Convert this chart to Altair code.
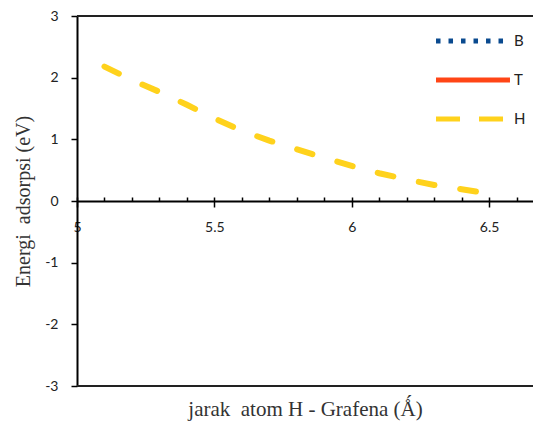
import altair as alt
import pandas as pd

# Data (series H); B and T appear only in the legend
distance = [5.1, 5.2, 5.3, 5.4, 5.5, 5.6, 5.7, 5.8, 5.9, 6.0, 6.1, 6.2, 6.3, 6.4, 6.5]
energy_H = [2.18, 1.96, 1.77, 1.56, 1.34, 1.14, 0.98, 0.84, 0.70, 0.57, 0.45, 0.35, 0.26, 0.19, 0.12]
series_names = ["B", "T", "H"]
series_colors = ["#0a4a8f", "#ff4516", "#ffd21c"]
legend_dashes = [[4.5, 8], [1, 0], [24, 19]]
line_dash_H = [16, 26]
x_ticks = [5, 5.5, 6, 6.5]
x_minor = [round(5 + 0.1 * i, 1) for i in range(17)]
y_ticks = [-3, -2, -1, 0, 1, 2, 3]
border_y = [3, -3]

df = pd.DataFrame({"x": distance, "y": energy_H, "s": ["H"] * len(distance)})
borders = pd.DataFrame({"y": border_y})
legend_df = pd.DataFrame({"s": series_names})

W, H = 456, 370
xscale = alt.Scale(domain=[5, 6.66], nice=False, zero=False)
yscale = alt.Scale(domain=[-3, 3], nice=False)
cscale = alt.Scale(domain=series_names, range=series_colors)

FONT_LBL = "Lato"
FONT_TTL = "Liberation Serif"

# wide horizontal stroke symbol with a small nominal size, so rows stay compact
leg = dict(title=None, orient="none", legendX=381, legendY=10,
           symbolType="M-3,0H3", symbolSize=608, symbolStrokeWidth=5,
           symbolFillColor="transparent",
           labelFont=FONT_LBL, labelFontSize=15, labelColor="#222222",
           rowPadding=14, labelOffset=26)

yaxis = dict(values=y_ticks, tickSize=6, tickWidth=1.5, tickColor="black",
             domainColor="black", domainWidth=2, grid=False,
             labelFont=FONT_LBL, labelFontSize=14, labelColor="#222222", labelPadding=13,
             labelExpr="'' + datum.value",
             title="Energi\u00a0 adsorpsi (eV)", titleFont=FONT_TTL, titleFontSize=20,
             titleFontWeight="normal", titleColor="#333333", titleX=-54,
             titleBaseline="middle")

line = alt.Chart(df).mark_line(strokeWidth=6, strokeCap="round", strokeDash=line_dash_H).encode(
    x=alt.X("x:Q", scale=xscale, axis=alt.Axis(
        orient="bottom", offset=-185, values=x_ticks, tickSize=6, tickWidth=1.5,
        tickColor="black", domainColor="black", domainWidth=2,
        labelFont=FONT_LBL, labelFontSize=14, labelColor="#222222", labelPadding=13,
        labelFlush=False, labelExpr="'' + datum.value",
        grid=False, title="jarak\u00a0 atom H - Grafena (\u01fa)",
        titleFont=FONT_TTL, titleFontSize=21, titleFontWeight="normal",
        titleColor="#333333", titleY=214, titleBaseline="alphabetic")),
    y=alt.Y("y:Q", scale=yscale, axis=alt.Axis(**yaxis)),
    color=alt.Color("s:N", scale=cscale, legend=alt.Legend(**leg)),
)

legend_layer = alt.Chart(legend_df).mark_line(strokeWidth=5).encode(
    color=alt.Color("s:N", scale=cscale, legend=alt.Legend(**leg)),
    strokeDash=alt.StrokeDash("s:N", scale=alt.Scale(domain=series_names, range=legend_dashes),
                              legend=alt.Legend(**leg)),
)

ticks = alt.Chart(df).mark_point(opacity=0).encode(
    x=alt.X("x:Q", scale=xscale, axis=alt.Axis(
        orient="top", offset=-185, values=x_minor, tickSize=4, tickWidth=1.5,
        tickColor="black", labels=False, domain=False, grid=False, title=None)),
    y=alt.Y("y:Q", scale=yscale, axis=alt.Axis(**yaxis)),
)

frame = alt.Chart(borders).mark_rule(color="#222222", strokeWidth=2).encode(
    y=alt.Y("y:Q", scale=yscale, axis=alt.Axis(**yaxis))
)

chart = alt.layer(line, frame, ticks, legend_layer).resolve_axis(x="independent").properties(
    width=W, height=H,
    padding={"left": 69, "top": 8, "right": 0, "bottom": 35},
    autosize="none",
).configure_view(stroke=None)

chart.save("out.html", embed_options={"renderer": "svg", "actions": False})
